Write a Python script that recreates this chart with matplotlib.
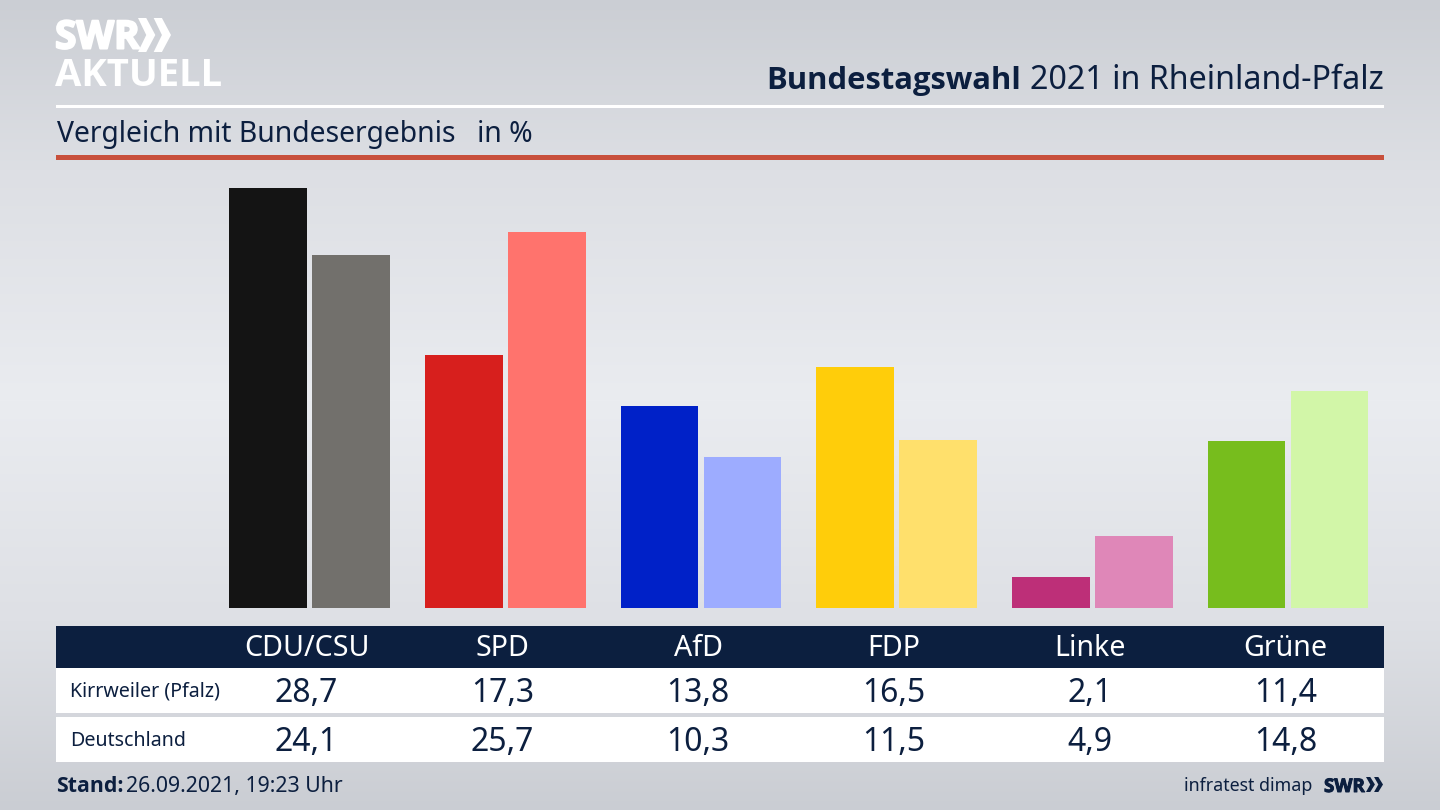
import numpy as np
import matplotlib
matplotlib.use("Agg")
import matplotlib.pyplot as plt
import matplotlib.patheffects as pe
from matplotlib.patches import Rectangle, Polygon

plt.rcParams['font.family'] = ['Noto Sans', 'DejaVu Sans']

parties = ['CDU/CSU', 'SPD', 'AfD', 'FDP', 'Linke', 'Grüne']
kirrweiler = [28.7, 17.3, 13.8, 16.5, 2.1, 11.4]
deutschland = [24.1, 25.7, 10.3, 11.5, 4.9, 14.8]
colors_local = ['#141414', '#d71f1d', '#0021c8', '#ffcd0a', '#bd2f78', '#77bd1d']
colors_bund = ['#72706c', '#ff736d', '#9dacff', '#ffe06c', '#df87b8', '#d2f6a8']

NAVY = '#0c1f3f'
BOLD = ['Open Sans', 'DejaVu Sans']
W, H = 1440, 810


def fmt(v):
    return f'{v:.1f}'.replace('.', ',')


def chevrons(ax, x, y, h, w, color):
    # the two arrow heads of the SWR logo
    for dx in (0, w * 0.95):
        ax.add_patch(Polygon([(x + dx, y), (x + dx + w * 0.5, y), (x + dx + w * 1.05, y + h / 2),
                              (x + dx + w * 0.5, y + h), (x + dx, y + h), (x + dx + w * 0.5, y + h / 2)],
                             closed=True, fc=color, ec='none'))


fig = plt.figure(figsize=(14.4, 8.1), dpi=100)

# page with pixel coordinates, background gradient
page = fig.add_axes([0, 0, 1, 1])
page.axis('off')
stops_y = [0, 170, 400, 620, 810]
stops_c = [(203, 206, 212), (221, 223, 228), (234, 236, 240),
           (222, 224, 229), (202, 205, 211)]
ys = np.arange(H)
grad = np.stack([np.interp(ys, stops_y, [c[i] for c in stops_c]) for i in range(3)], axis=1) / 255
page.imshow(grad[:, None, :], extent=(0, W, H, 0), aspect='auto', zorder=0)
page.set_xlim(0, W)
page.set_ylim(H, 0)

# header
page.text(55, 38, 'SWR', color='white', fontsize=28, fontweight='bold', va='center', ha='left',
          family=BOLD, path_effects=[pe.withStroke(linewidth=1.5, foreground='white')])
chevrons(page, 138, 18, 34, 16.5, 'white')
page.text(55, 76, 'AKTUELL', color='white', fontsize=27.5, fontweight='bold', va='center', ha='left',
          family=BOLD)
t = page.text(1384, 89, '2021 in Rheinland-Pfalz', color=NAVY, fontsize=23.2, ha='right', va='baseline')
fig.canvas.draw()
bb = t.get_window_extent()
page.text(bb.x0 - 9, 89, 'Bundestagswahl', color=NAVY, fontsize=22.3, fontweight='bold', ha='right', va='baseline',
          family=BOLD)
page.add_patch(Rectangle((56, 104.5), 1328, 3, fc='white', ec='none'))
page.text(57, 142, 'Vergleich mit Bundesergebnis', color=NAVY, fontsize=20.4, va='baseline')
page.text(477, 142, 'in %', color=NAVY, fontsize=20.4, va='baseline')
page.add_patch(Rectangle((56, 155), 1328, 5, fc='#c8503c', ec='none'))

# bars
ax = fig.add_axes([56 / W, 1 - 608 / H, 1328 / W, 438 / H])
ax.patch.set_alpha(0)
step = 195.7
ax.set_xlim((56 - 309.6) / step, (1384 - 309.6) / step)
ax.set_ylim(0, 438 / 14.63)
ax.axis('off')
x = np.arange(len(parties))
bw = 77.5 / step
off = 41.5 / step
ax.bar(x - off, kirrweiler, bw, color=colors_local)
ax.bar(x + off, deutschland, bw, color=colors_bund)

# table
page.add_patch(Rectangle((56, 626), 1328, 42, fc=NAVY, ec='none'))
page.add_patch(Rectangle((56, 668), 1328, 45, fc='white', ec='none'))
page.add_patch(Rectangle((56, 717), 1328, 45, fc='white', ec='none'))
page.text(70.5, 697, 'Kirrweiler (Pfalz)', color=NAVY, fontsize=14.1, va='baseline')
page.text(70.5, 746, 'Deutschland', color=NAVY, fontsize=14.1, va='baseline')
for i, name in enumerate(parties):
    cx = 306.5 + i * 195.8
    page.text(cx, 656, name, color='white', fontsize=20.6, ha='center', va='baseline')
    page.text(cx, 702, fmt(kirrweiler[i]), color=NAVY, fontsize=23, ha='center', va='baseline')
    page.text(cx, 751, fmt(deutschland[i]), color=NAVY, fontsize=23, ha='center', va='baseline')

# footer
page.text(56, 792, 'Stand:', color=NAVY, fontsize=15.3, fontweight='bold', va='baseline', family=BOLD)
page.text(126, 792, '26.09.2021, 19:23 Uhr', color=NAVY, fontsize=15.3, va='baseline')
page.text(1312, 791, 'infratest dimap', color=NAVY, fontsize=12.8, ha='right', va='baseline')
page.text(1324, 787, 'SWR', color=NAVY, fontsize=13.5, fontweight='bold', ha='left', va='center',
          family=BOLD, path_effects=[pe.withStroke(linewidth=0.7, foreground=NAVY)])
chevrons(page, 1366, 777, 15, 8.5, NAVY)

fig.savefig('out.png', dpi=100)
plt.close(fig)
